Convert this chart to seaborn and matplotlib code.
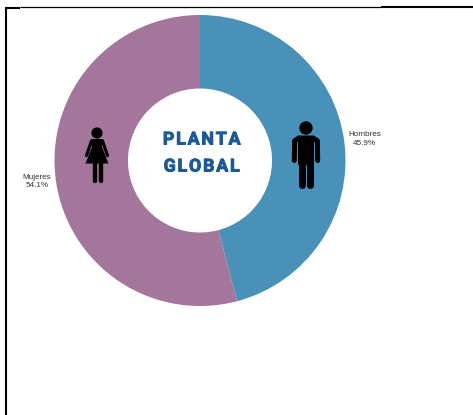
import matplotlib
matplotlib.use("Agg")
import matplotlib.pyplot as plt
import matplotlib.patheffects as pe
from matplotlib.patches import Circle, Polygon
import seaborn as sns

categories = ["Hombres", "Mujeres"]
shares = [45.9, 54.1]
slice_colors = ["#4a91b9", "#a5769c"]
center_lines = ["P\u200aL\u200aA\u200aN\u200aT\u200aA", "G\u200aL\u200aO\u200aB\u200aA\u200aL"]

W, H = 473, 415
sns.set_theme(style="white")
plt.rcParams["font.family"] = ["Liberation Sans", "DejaVu Sans"]

fig = plt.figure(figsize=(W / 100, H / 100), dpi=100, facecolor="white")

# overlay in pixel coords, y going down like the picture
over = fig.add_axes([0, 0, 1, 1], zorder=2)
over.set_xlim(0, W)
over.set_ylim(H, 0)
over.axis("off")
over.patch.set_alpha(0)

# donut
cx, cy, r = 200, 160.5, 145.5
ax = fig.add_axes([(cx - r) / W, 1 - (cy + r) / H, 2 * r / W, 2 * r / H], zorder=1)
ax.pie(shares, colors=sns.color_palette(slice_colors), startangle=90, counterclock=False,
       radius=1, wedgeprops=dict(width=0.505, linewidth=0))
ax.set_xlim(-1, 1)
ax.set_ylim(-1, 1)

# labels
over.text(364.5, 139, f"{categories[0]}\n{shares[0]}%", fontsize=5.9, color="#333333",
          ha="center", va="center", linespacing=1.3)
over.text(37, 181.5, f"{categories[1]}\n{shares[1]}%", fontsize=5.9, color="#333333",
          ha="center", va="center", linespacing=1.3)

# centre title
title_font = ["Roboto", "DejaVu Sans"]
heavy = [pe.withStroke(linewidth=0.7, foreground="#1d5a94")]
over.text(201.5, 139.5, center_lines[0], fontsize=12.8, fontweight="bold", color="#1d5a94",
          family=title_font, ha="center", va="center", path_effects=heavy)
over.text(201.5, 166.5, center_lines[1], fontsize=12.8, fontweight="bold", color="#1d5a94",
          family=title_font, ha="center", va="center", path_effects=heavy)


def limb(x0, y0, x1, y1, w):
    over.plot([x0, x1], [y0, y1], color="black", lw=w * 0.72, solid_capstyle="round")


# man icon
over.add_patch(Circle((306, 128), 6.7, color="black", lw=0))
over.add_patch(Polygon([[298, 135.5], [314, 135.5], [319, 139], [320, 142], [292, 142], [293, 139]],
                       color="black", lw=0))
over.add_patch(Polygon([[298, 138], [314, 138], [314, 165], [298, 165]], color="black", lw=0))
limb(294.6, 141, 294.3, 160.5, 5)
limb(317.4, 141, 317.7, 160.5, 5)
limb(301.8, 162, 301.8, 185, 7)
limb(310.2, 162, 310.2, 185, 7)

# woman icon
over.add_patch(Circle((97, 133), 5.6, color="black", lw=0))
over.add_patch(Polygon([[91, 139], [103, 139], [102, 147], [108.5, 163.5], [85.5, 163.5], [92, 147]],
                       color="black", lw=0))
limb(91.5, 141, 86.5, 155.5, 3.2)
limb(102.5, 141, 107.5, 155.5, 3.2)
limb(94.8, 162, 94.8, 181, 4.4)
limb(100.6, 162, 100.6, 181, 4.4)

# page frame, left and top
over.plot([6, 6], [8, 415], color="black", lw=1.5, solid_capstyle="butt")
over.plot([5, 20], [8, 8], color="black", lw=1.5, solid_capstyle="butt")
over.plot([20, 381], [7.5, 7.5], color="black", lw=0.9, solid_capstyle="butt")
over.plot([381, 473], [7.5, 7.5], color="black", lw=1.5, solid_capstyle="butt")

fig.savefig("out.png", dpi=100, facecolor="white")
